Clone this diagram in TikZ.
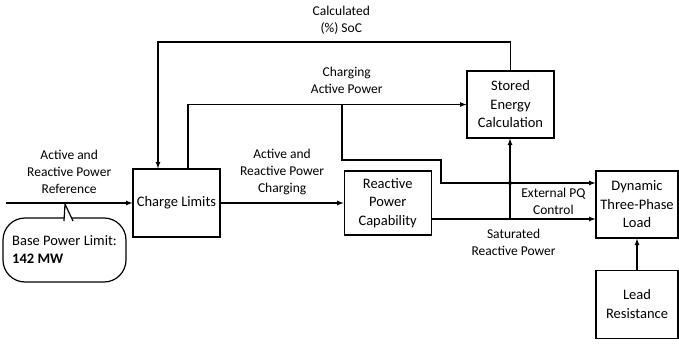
\documentclass[tikz,border=0pt]{standalone}
\usepackage{fontspec}
\setmainfont{Carlito}
\usetikzlibrary{arrows, positioning, calc}
\tikzstyle{block} = [rectangle, minimum width=87pt, minimum height=67pt, inner sep=1pt, text centered, align=center, draw=black, line width=1.2pt, font=\fontsize{14.5}{18.5}\selectfont]
\tikzstyle{lbl} = [align=center, inner sep=1pt, font=\fontsize{13.5}{17}\selectfont]
\tikzstyle{callout} = [rectangle, rounded corners=22pt, minimum width=123pt, minimum height=64pt, align=left, draw=black, line width=1.2pt, font=\fontsize{14.5}{18}\selectfont]

\begin{document}
\begin{tikzpicture}[x=1pt, y=1pt, line width=1.2pt]
				\useasboundingbox (0,0) rectangle (679,346);
				\node (charge) [block, minimum height=68pt] at (176.5,143) {Charge Limits};
				\node (rpc) [block, minimum height=64pt, right=123pt of charge] {Reactive\\Power\\Capability};
				\node (stored) [block] at (510.5,241.5) {Stored\\Energy\\Calculation};
				\node (load) [block, minimum width=82pt] at (637,141.5) {Dynamic\\Three-Phase\\Load};
				\node (lead) [block, minimum width=82pt, minimum height=68pt, below=31pt of load] {Lead\\Resistance};
				\node (base) [callout] at (64.5,96) {Base Power Limit:\\\textbf{142 MW}};
				
				\coordinate (in) at (6,143);
				\coordinate (tip) at (65,142);
				\coordinate (cltop) at ($(charge.north)+(11.5,0)$);
				\coordinate (socin) at ($(charge.north)+(-18.5,0)$);
				\coordinate (split) at (342,241.5);
				\coordinate (jog) at (441,186);
				\coordinate (pq) at (510,163);
				\coordinate (sat) at (510,127);
				
				\draw[-latex] (in) -- node[lbl, above=8pt]{Active and\\Reactive Power\\Reference} (charge);
				\draw[fill=white] (64,125) -- (tip) -- (73,125);
				\draw[-latex] (charge) -- node[lbl, above=7pt]{Active and\\Reactive Power\\Charging} (rpc);
				\draw[-latex] (stored.north) |- node[lbl, above=6pt, pos=0.74]{Calculated\\(\%) SoC} (socin |- 0,304) -- (socin);
				\draw[-latex] (cltop) |- node[lbl, above=9pt, pos=0.785]{Charging\\Active Power} (stored);
				\draw[-latex] (split) |- (jog) |- node[lbl, below=4pt, pos=0.864]{External PQ\\Control} (load.west |- pq);
				\draw[-latex] (rpc.east |- sat) -- node[lbl, below=9pt]{Saturated\\Reactive Power} (load.west |- sat);
				\draw[-latex] (sat) -- (sat |- stored.south);
				\fill (pq) circle (2pt);
				\draw[-latex] (lead) -- (load);
			\end{tikzpicture}
\end{document}
